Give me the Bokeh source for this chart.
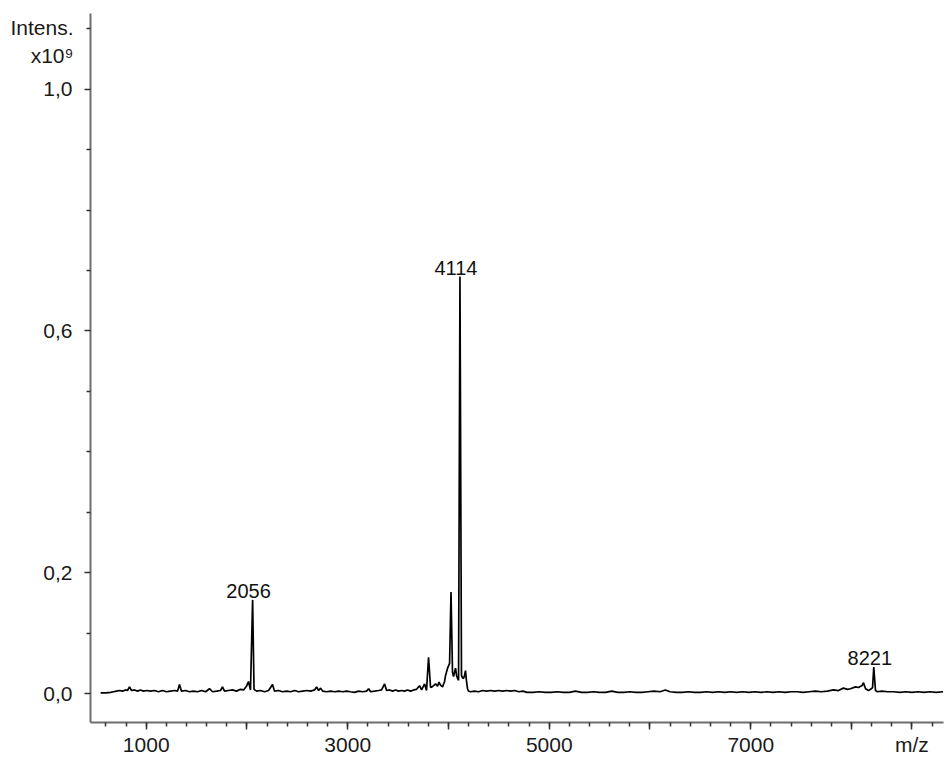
from bokeh.plotting import figure
from bokeh.models import Range1d, FixedTicker, CustomJSTickFormatter, LinearAxis
from bokeh.core.properties import value
from bokeh.embed import file_html
from bokeh.resources import INLINE

# ---- data ----
mz = [547, 596, 646, 675, 705, 735, 765, 795, 814, 834,
      854, 884, 914, 943, 973, 1003, 1043, 1082, 1122, 1162,
      1201, 1241, 1281, 1311, 1330, 1350, 1390, 1430, 1469, 1509,
      1549, 1589, 1628, 1658, 1698, 1737, 1757, 1777, 1817, 1856,
      1896, 1936, 1966, 1995, 2015, 2035, 2056, 2070, 2095, 2134,
      2174, 2214, 2254, 2273, 2313, 2353, 2393, 2433, 2473, 2512,
      2552, 2592, 2632, 2671, 2691, 2711, 2731, 2751, 2790, 2830,
      2870, 2910, 2949, 2989, 3028, 3068, 3108, 3148, 3187, 3207,
      3227, 3267, 3306, 3336, 3366, 3386, 3416, 3445, 3475, 3505,
      3535, 3564, 3594, 3624, 3654, 3683, 3713, 3733, 3763, 3782,
      3802, 3822, 3837, 3852, 3872, 3892, 3906, 3921, 3941, 3961,
      3971, 3991, 4011, 4025, 4040, 4050, 4060, 4070, 4080, 4090,
      4100, 4114, 4129, 4139, 4149, 4159, 4169, 4179, 4189, 4199,
      4219, 4258, 4298, 4338, 4378, 4418, 4458, 4498, 4538, 4578,
      4618, 4658, 4698, 4738, 4780, 4840, 4900, 4960, 5020, 5080,
      5140, 5200, 5260, 5320, 5380, 5440, 5500, 5560, 5620, 5680,
      5740, 5800, 5860, 5920, 5980, 6040, 6100, 6152, 6200, 6260,
      6320, 6380, 6440, 6500, 6560, 6620, 6680, 6740, 6800, 6860,
      6920, 6980, 7040, 7100, 7160, 7220, 7280, 7340, 7400, 7460,
      7520, 7580, 7640, 7700, 7760, 7821, 7870, 7920, 7960, 7990,
      8039, 8070, 8089, 8105, 8119, 8139, 8169, 8189, 8209, 8221,
      8238, 8258, 8300, 8360, 8420, 8480, 8540, 8600, 8660, 8720,
      8780, 8840, 8910]

intensity = [0.001, 0.001, 0.002, 0.003, 0.004, 0.005, 0.004, 0.006, 0.005, 0.011,
             0.005, 0.006, 0.004, 0.006, 0.004, 0.005, 0.004, 0.005, 0.003, 0.005,
             0.003, 0.004, 0.005, 0.004, 0.015, 0.004, 0.005, 0.003, 0.004, 0.003,
             0.005, 0.003, 0.008, 0.003, 0.004, 0.005, 0.011, 0.004, 0.005, 0.006,
             0.004, 0.007, 0.006, 0.012, 0.020, 0.006, 0.155, 0.007, 0.004, 0.005,
             0.003, 0.005, 0.015, 0.004, 0.005, 0.003, 0.004, 0.003, 0.005, 0.003,
             0.004, 0.005, 0.004, 0.006, 0.011, 0.005, 0.009, 0.004, 0.003, 0.004,
             0.003, 0.004, 0.003, 0.004, 0.003, 0.002, 0.004, 0.003, 0.004, 0.008,
             0.003, 0.004, 0.005, 0.006, 0.016, 0.005, 0.006, 0.004, 0.006, 0.004,
             0.005, 0.004, 0.006, 0.004, 0.006, 0.007, 0.013, 0.006, 0.016, 0.005,
             0.060, 0.010, 0.011, 0.013, 0.016, 0.012, 0.019, 0.014, 0.011, 0.020,
             0.030, 0.042, 0.050, 0.168, 0.035, 0.028, 0.035, 0.042, 0.030, 0.025,
             0.022, 0.690, 0.030, 0.026, 0.025, 0.030, 0.038, 0.020, 0.008, 0.004,
             0.003, 0.004, 0.003, 0.005, 0.004, 0.005, 0.004, 0.005, 0.004, 0.005,
             0.004, 0.005, 0.003, 0.004, 0.002, 0.002, 0.003, 0.002, 0.002, 0.003,
             0.002, 0.002, 0.004, 0.002, 0.002, 0.003, 0.002, 0.002, 0.004, 0.002,
             0.002, 0.003, 0.002, 0.002, 0.003, 0.004, 0.003, 0.006, 0.003, 0.002,
             0.002, 0.003, 0.002, 0.002, 0.003, 0.002, 0.003, 0.002, 0.003, 0.002,
             0.003, 0.002, 0.003, 0.002, 0.003, 0.002, 0.003, 0.002, 0.003, 0.003,
             0.002, 0.003, 0.004, 0.003, 0.004, 0.006, 0.005, 0.009, 0.007, 0.008,
             0.011, 0.010, 0.012, 0.013, 0.018, 0.008, 0.005, 0.007, 0.010, 0.044,
             0.005, 0.003, 0.004, 0.003, 0.003, 0.002, 0.003, 0.002, 0.003, 0.002,
             0.003, 0.002, 0.003]

peak_mz = [2056, 4114, 8221]
peak_int = [0.155, 0.690, 0.044]
peak_labels = ["2056", "4114", "8221"]

# x axis: labelled every 2000, long ticks every 1000, short ticks every 200,
# unit title "m/z" at the right end of the axis
x_major = [1000, 2000, 3000, 4000, 5000, 6000, 7000, 8000, 8600]
x_minor = list(range(600, 8900, 200))
x_label_text = {2000: "", 4000: "", 6000: "", 8000: "", 8600: "m/z"}
# y axis (x10^9): labels at 0,0 / 0,2 / 0,6 / 1,0
y_major = [0.0, 0.2, 0.6, 1.0]
y_minor = [0.1, 0.3, 0.4, 0.5, 0.7, 0.8, 0.9, 1.1]
# unit title of the y axis, anchored at the top of the axis
y_title_at = [1.079]
y_title_text = {1.079: "Intens.\nx10\u2079"}

FONT = "Liberation Sans"
TXT = "#1a1a1a"

p = figure(width=949, height=758, output_backend="svg", toolbar_location=None,
           x_range=Range1d(447, 8913), y_range=Range1d(-0.0479, 1.1254),
           min_border_left=90, min_border_right=6, min_border_top=13,
           min_border_bottom=34)
p.outline_line_color = None
p.xgrid.visible = False
p.ygrid.visible = False
p.background_fill_color = "white"
p.border_fill_color = "white"

p.line(mz, intensity, line_color="black", line_width=1.7)
p.text(x=peak_mz, y=peak_int, text=peak_labels, x_offset=-4, y_offset=-9,
       text_align="center", text_baseline="alphabetic",
       text_font=value(FONT), text_font_size="20px", text_color="#111111")

# axes styling
for ax in (p.xaxis[0], p.yaxis[0]):
    ax.axis_line_color = "#6e6e6e"
    ax.axis_line_width = 2
    ax.major_tick_line_color = "#333333"
    ax.minor_tick_line_color = "#333333"
    ax.major_tick_line_width = 1.5
    ax.minor_tick_line_width = 1.5
    ax.major_tick_in = 0
    ax.minor_tick_in = 0
    ax.major_label_text_font = FONT
    ax.major_label_text_font_size = "21px"
    ax.major_label_text_color = TXT

xa = p.xaxis[0]
xa.ticker = FixedTicker(ticks=x_major, minor_ticks=x_minor)
xa.major_label_overrides = x_label_text
xa.major_tick_out = 7
xa.minor_tick_out = 4
xa.major_label_standoff = 3

ya = p.yaxis[0]
ya.ticker = FixedTicker(ticks=y_major, minor_ticks=y_minor)
ya.formatter = CustomJSTickFormatter(code="return tick.toFixed(1).replace('.', ',');")
ya.major_tick_out = 6
ya.minor_tick_out = 4
ya.major_label_standoff = 12
ya.major_label_orientation = "horizontal"

# outer, line-less axis that only carries the unit title "Intens. x10^9"
title_axis = LinearAxis(ticker=FixedTicker(ticks=y_title_at, minor_ticks=[]),
                        major_label_overrides=y_title_text,
                        axis_line_color=None, major_tick_line_color=None,
                        minor_tick_line_color=None, major_tick_out=0,
                        major_tick_in=0, minor_tick_out=0, minor_tick_in=0,
                        major_label_standoff=-33,
                        major_label_orientation="horizontal",
                        major_label_text_font=FONT,
                        major_label_text_font_size="21px",
                        major_label_text_color=TXT)
p.add_layout(title_axis, "left")

open("out.html", "w").write(file_html(p, INLINE))
